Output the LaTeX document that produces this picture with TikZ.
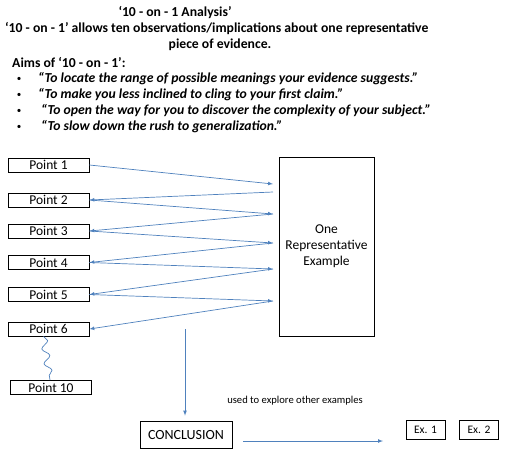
\documentclass[tikz,border=0pt]{standalone}
\usepackage{fontspec}
\setmainfont{Carlito}
\usepackage{xcolor}
\usetikzlibrary{decorations.pathmorphing}
\definecolor{linkblue}{RGB}{79,129,189}

\tikzset{
  pointbox/.style={draw, thick, minimum width=81pt, minimum height=14pt, inner sep=0pt, font=\fontsize{13.5}{14}\selectfont},
  exbox/.style={draw, thick, minimum width=39pt, minimum height=19pt, inner sep=0pt, font=\fontsize{11.5}{12}\selectfont},
  headtext/.style={font=\bfseries\fontsize{13.7}{15}\selectfont, inner sep=0pt},
  aimtext/.style={font=\bfseries\itshape\fontsize{13.7}{15}\selectfont, inner sep=0pt, anchor=west},
  dot/.style={font=\fontsize{9}{10}\selectfont, inner sep=0pt},
  link/.style={>=latex, ->, draw=linkblue, line width=0.7pt},
  wavy/.style={draw=linkblue, line width=0.7pt, decorate, decoration={snake, segment length=15pt, amplitude=3.5pt}},
}

\begin{document}
\begin{tikzpicture}[x=1pt, y=-1pt]
\useasboundingbox (0,0) rectangle (508,456);

% heading
\node[headtext] (title) at (175,13) {‘10 - on - 1 Analysis’};
\node[headtext, anchor=west] (intro) at (5,29) {‘10 - on - 1’ allows ten observations/implications about one representative};
\node[headtext] (intro2) at (220,45) {piece of evidence.};
\node[headtext, anchor=west] (aims) at (12,62) {Aims of ‘10 - on - 1’:};

% aims list
\node[dot] (b1) at (19,79) {\textbullet};
\node[dot] (b2) at (19,95) {\textbullet};
\node[dot] (b3) at (19,111) {\textbullet};
\node[dot] (b4) at (19,127) {\textbullet};
\node[aimtext] (aim1) at (38,79) {“To locate the range of possible meanings your evidence suggests.”};
\node[aimtext] (aim2) at (38,95) {“To make you less inclined to cling to your first claim.”};
\node[aimtext] (aim3) at (41,111) {“To open the way for you to discover the complexity of your subject.”};
\node[aimtext] (aim4) at (41,127) {“To slow down the rush to generalization.”};

% points
\node[pointbox] (p1) at (48.5,165) {Point 1};
\node[pointbox] (p2) at (48.5,200) {Point 2};
\node[pointbox] (p3) at (48.5,231) {Point 3};
\node[pointbox] (p4) at (48.5,262.5) {Point 4};
\node[pointbox] (p5) at (48.5,294.5) {Point 5};
\node[pointbox] (p6) at (48.5,329) {Point 6};
\node[pointbox] (p10) at (51,387.5) {Point 10};

% example box
\node[draw, thick, minimum width=95pt, minimum height=179pt, align=center, font=\fontsize{13.5}{16}\selectfont] (rep) at (326.5,246.5) {One\\Representative\\Example};

\coordinate (a1) at (273,184);
\coordinate (r1) at (273,192);
\coordinate (a2) at (273,214);
\coordinate (a3) at (273,243);
\coordinate (a4) at (273,269);
\coordinate (a5) at (273,301);

\draw[link] (p1.east) -- (a1);
\draw[link] (r1) -- (p2.east);
\draw[link] (p2.east) -- (a2);
\draw[link] (a2) -- (p3.east);
\draw[link] (p3.east) -- (a3);
\draw[link] (a3) -- (p4.east);
\draw[link] (p4.east) -- (a4);
\draw[link] (a4) -- (p5.east);
\draw[link] (p5.east) -- (a5);
\draw[link] (a5) -- (p6.east);

\draw[wavy] ([xshift=-5pt]p6.south) -- ([xshift=-1pt]p10.north);

% conclusion
\node[draw, thick, minimum width=92pt, minimum height=27pt, inner sep=0pt, font=\fontsize{14}{15}\selectfont] (concl) at (186,434.5) {CONCLUSION};
\node[exbox] (ex1) at (425.5,430) {Ex. 1};
\node[exbox] (ex2) at (479,430) {Ex. 2};
\node[font=\fontsize{10.6}{12}\selectfont] (use) at (295,401) {used to explore other examples};

\coordinate (c0) at (185,329);
\coordinate (h0) at (243,441);
\coordinate (h1) at (383,441);
\draw[link] (c0) -- ([yshift=5pt]concl.north -| c0);
\draw[link] (h0) -- (h1);
\end{tikzpicture}
\end{document}
